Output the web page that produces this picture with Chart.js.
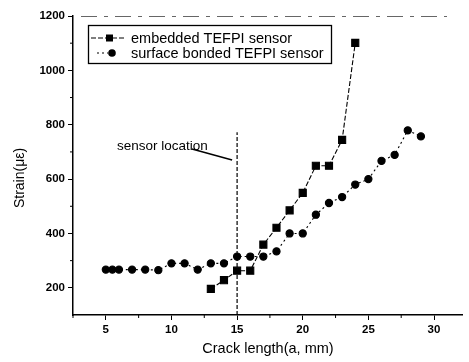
<!DOCTYPE html>
<html>
<head>
<meta charset="utf-8">
<script src="https://cdn.jsdelivr.net/npm/chart.js@4/dist/chart.umd.min.js"></script>
<style>
  html, body { margin: 0; padding: 0; background: #fff; }
  #wrap { width: 469px; height: 362px; }
</style>
</head>
<body>
<div id="wrap"><canvas id="graphe"></canvas></div>
<script>
// --- données ---
const crackEmbedded = [13, 14, 15, 16, 17, 18, 19, 20, 21, 22, 23, 24];
const strainEmbedded = [196, 228, 263, 263, 359, 421, 485, 549, 649, 649, 744, 1101];
const crackSurface = [5, 5.5, 6, 7, 8, 9, 10, 11, 12, 13, 14, 15, 16, 17, 18, 19, 20, 21, 22, 23, 24, 25, 26, 27, 28, 29];
const strainSurface = [267, 267, 267, 267, 267, 265, 290, 290, 267, 290, 290, 315, 315, 315, 334, 400, 400, 469, 512, 534, 580, 600, 667, 689, 779, 757];
const sensorX = 15;
const sensorLine = [100, 772];
const xTicks = [5, 10, 15, 20, 25, 30];
const yTicks = [200, 400, 600, 800, 1000, 1200];
const xMinor = [2.5, 7.5, 12.5, 17.5, 22.5, 27.5];
const yMinor = [300, 500, 700, 900, 1100];
const legendLabels = ['embedded TEFPI sensor', 'surface bonded TEFPI sensor'];

const police = '"Liberation Sans", Arial, sans-serif';
const pts = (xs, ys) => xs.map((x, i) => ({ x, y: ys[i] }));

// petits traits secondaires, légende encadrée, annotations
const decor = {
    id: 'decor',
    afterDraw(chart) {
        const { ctx, chartArea: a, scales: { x, y } } = chart;
        ctx.save();
        ctx.strokeStyle = '#000';
        ctx.lineWidth = 1;
        ctx.beginPath();
        xMinor.forEach(v => { const px = x.getPixelForValue(v); ctx.moveTo(px, a.bottom); ctx.lineTo(px, a.bottom + 3); });
        yMinor.forEach(v => { const py = y.getPixelForValue(v); ctx.moveTo(a.left, py); ctx.lineTo(a.left - 3, py); });
        ctx.stroke();

        // bord supérieur pâle en tirets
        ctx.strokeStyle = '#666';
        ctx.setLineDash([16, 7, 4, 7]);
        ctx.beginPath();
        ctx.moveTo(a.left + 8, a.top + 0.5);
        ctx.lineTo(447, a.top + 0.5);
        ctx.stroke();
        ctx.setLineDash([]);
        ctx.strokeStyle = '#000';

        // titre Y
        ctx.fillStyle = '#000';
        ctx.font = '14px ' + police;
        ctx.translate(20, 178);
        ctx.rotate(-Math.PI / 2);
        ctx.textAlign = 'center';
        ctx.textBaseline = 'middle';
        ctx.fillText('Strain(με)', 0, 0);
        ctx.setTransform(1, 0, 0, 1, 0, 0);

        // annotation capteur
        ctx.font = '13.5px ' + police;
        ctx.textAlign = 'left';
        ctx.fillText('sensor location', 117, 146);
        ctx.lineWidth = 1.4;
        ctx.beginPath();
        ctx.moveTo(192, 149);
        ctx.lineTo(x.getPixelForValue(sensorX) - 5, 160);
        ctx.stroke();

        // légende
        ctx.lineWidth = 1.3;
        ctx.strokeRect(88.5, 25.5, 243, 38);
        ctx.font = '14.5px ' + police;
        ctx.textBaseline = 'middle';
        const rows = [38, 53];
        ctx.lineWidth = 1.2;
        ctx.setLineDash([5, 2]);
        ctx.beginPath(); ctx.moveTo(91, rows[0]); ctx.lineTo(126, rows[0]); ctx.stroke();
        ctx.setLineDash([2, 3]);
        ctx.beginPath(); ctx.moveTo(97, rows[1]); ctx.lineTo(108, rows[1]); ctx.stroke();
        ctx.setLineDash([]);
        ctx.fillRect(106, rows[0] - 3.5, 7, 7);
        ctx.beginPath(); ctx.arc(112, rows[1], 3.8, 0, Math.PI * 2); ctx.fill();
        ctx.fillText(legendLabels[0], 131, rows[0] + 1);
        ctx.fillText(legendLabels[1], 131, rows[1] + 1);
        ctx.restore();
    },
};

new Chart(document.getElementById('graphe'), {
    type: 'line',
    data: {
        datasets: [
            {
                label: legendLabels[0],
                data: pts(crackEmbedded, strainEmbedded),
                borderColor: '#000', backgroundColor: '#000',
                borderWidth: 1.1, borderDash: [5, 2],
                pointStyle: 'rect', pointRadius: 5, pointHoverRadius: 5,
                tension: 0,
            },
            {
                label: legendLabels[1],
                data: pts(crackSurface, strainSurface),
                borderColor: '#000', backgroundColor: '#000',
                borderWidth: 1.1, borderDash: [2, 3],
                pointStyle: 'circle', pointRadius: 3.6, pointHoverRadius: 3.6,
                tension: 0,
            },
            {
                label: 'sensor',
                data: sensorLine.map(v => ({ x: sensorX, y: v })),
                borderColor: '#000', borderWidth: 1.2, borderDash: [4, 2],
                pointRadius: 0,
            },
        ],
    },
    options: {
        responsive: true,
        maintainAspectRatio: false,
        animation: false,
        layout: { padding: { top: 16, right: 0 } },
        plugins: { legend: { display: false }, tooltip: { enabled: false } },
        scales: {
            x: {
                type: 'linear', min: 2.5, max: 32.2,
                afterBuildTicks: s => { s.ticks = xTicks.map(value => ({ value })); },
                afterFit: s => { s.height = 47; },
                grid: { drawOnChartArea: false, tickLength: 5, color: '#000' },
                border: { color: '#000', width: 1.5 },
                ticks: { color: '#000', padding: 3, callback: v => String(v), font: { family: police, size: 11.5, weight: 'bold' } },
                title: { display: true, text: 'Crack length(a, mm)', color: '#000', padding: { top: 3 }, font: { family: police, size: 14.5 } },
            },
            y: {
                type: 'linear', min: 100, max: 1200,
                afterBuildTicks: s => { s.ticks = yTicks.map(value => ({ value })); },
                afterFit: s => { s.width = 73; },
                grid: { drawOnChartArea: false, tickLength: 5, color: '#000' },
                border: { color: '#000', width: 1.5 },
                ticks: { color: '#000', padding: 3, callback: v => String(v), font: { family: police, size: 11.5, weight: 'bold' } },
            },
        },
    },
    plugins: [decor],
});
</script>
</body>
</html>
